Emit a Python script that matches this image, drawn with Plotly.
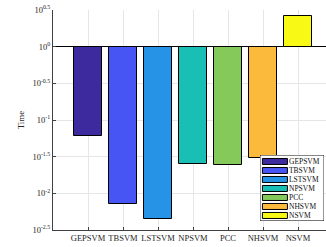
import numpy as np
import plotly.graph_objects as go

# ---- data ----
methods = ["GEPSVM", "TBSVM", "LSTSVM", "NPSVM", "PCC", "NHSVM", "NSVM"]
times = [0.0603, 0.00708, 0.0044, 0.0248, 0.0246, 0.0306, 2.59]
colors = ["#3e2a9f", "#4755f5", "#2693e6", "#19bfb4", "#84c95a", "#fcba3d", "#f8f914"]
ytick_exp = [-2.5, -2, -1.5, -1, -0.5, 0, 0.5]
ytick_text = ["10<sup>%s</sup>" % (("%g" % e)) for e in ytick_exp]

FONT = "Liberation Serif"
AX = "#404040"

logt = np.log10(times)

fig = go.Figure()
fig.add_trace(go.Bar(
    x=methods, y=logt, width=0.8,
    marker=dict(color=colors, line=dict(color="black", width=1)),
    showlegend=False, xaxis="x", yaxis="y",
))

# legend built as an inset
fig.add_trace(go.Bar(
    y=methods, x=[25] * len(methods), base=2.5, orientation="h", width=0.66,
    marker=dict(color=colors, line=dict(color="black", width=1)),
    showlegend=False, xaxis="x2", yaxis="y2",
))
fig.add_trace(go.Scatter(
    y=methods, x=[29] * len(methods), mode="text", text=methods,
    textposition="middle right",
    textfont=dict(family=FONT, size=7.5, color="#111"),
    showlegend=False, xaxis="x2", yaxis="y2", cliponaxis=False,
))
fig.add_shape(type="rect", xref="x2", yref="y2", x0=0, x1=64, y0=-0.77, y1=6.5,
              fillcolor="white", line=dict(color="black", width=1), layer="below")

fig.update_layout(
    width=326, height=247,
    margin=dict(l=53, r=0, t=10, b=17),
    paper_bgcolor="white", plot_bgcolor="white",
    font=dict(family=FONT, size=8.5, color="#262626"),
    bargap=0,
    xaxis=dict(
        type="category", range=[-1, 6.8], domain=[0, 1],
        showgrid=True, gridcolor="#e6e6e6", gridwidth=1,
        showline=True, linecolor=AX, linewidth=1,
        ticks="inside", ticklen=3, tickcolor=AX,
        tickfont=dict(family=FONT, size=8.5, color="#262626"),
        zeroline=False,
    ),
    yaxis=dict(
        range=[-2.5, 0.5], domain=[0, 1],
        tickvals=ytick_exp, ticktext=ytick_text,
        showgrid=True, gridcolor="#e6e6e6", gridwidth=1,
        showline=True, linecolor=AX, linewidth=1,
        ticks="inside", ticklen=3, tickcolor=AX,
        zeroline=True, zerolinecolor="black", zerolinewidth=1,
        tickfont=dict(family=FONT, size=8.5, color="#262626"),
        title=dict(text="Time", font=dict(family=FONT, size=9, color="#262626"), standoff=6),
    ),
    xaxis2=dict(
        domain=[0.758, 0.993], anchor="y2", range=[0, 64],
        showgrid=False, zeroline=False, showticklabels=False, ticks="", showline=False,
    ),
    yaxis2=dict(
        domain=[0.041, 0.341], anchor="x2", type="category",
        categoryorder="array", categoryarray=methods, range=[6.5, -0.77],
        showgrid=False, zeroline=False, showticklabels=False, ticks="", showline=False,
    ),
)

fig.write_html(
    "out.html",
    config={"displayModeBar": False},
    post_script="document.body.style.margin='0';document.body.style.padding='0';"
                "document.body.style.overflow='hidden';",
)
